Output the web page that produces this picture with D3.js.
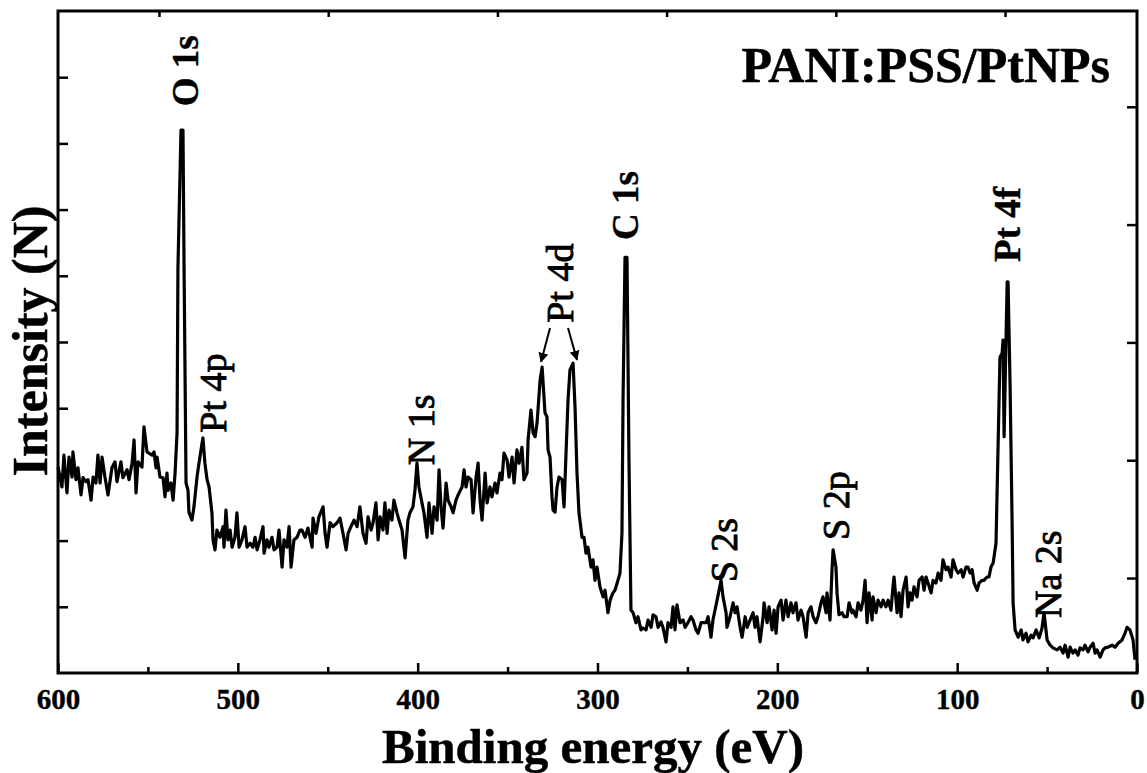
<!DOCTYPE html>
<html><head><meta charset="utf-8">
<script src="https://cdn.jsdelivr.net/npm/d3@7"></script>
<style>body{margin:0;background:#fff}svg{display:block}</style>
</head><body>
<svg id="chart" width="1147" height="773"></svg>
<script>
// Binding energy (eV), intensity (a.u., one unit per left tick)
const spectrum = [
[600.0,3.11],[597.8,2.81],[596.7,3.29],[595.0,2.72],[593.9,3.26],[592.2,2.96],[591.7,3.34],[590.0,2.92],[588.9,3.10],[587.2,2.69],
[586.1,2.95],[584.4,2.89],[583.3,2.92],[581.6,2.61],[580.5,2.96],[578.9,2.87],[577.8,3.29],[576.6,2.87],[575.5,3.26],[573.9,2.96],
[572.2,2.69],[570.0,3.10],[568.3,3.19],[567.2,2.89],[565.0,3.19],[563.9,2.95],[561.6,3.07],[560.5,2.92],[558.8,3.17],[557.7,3.52],
[556.6,2.72],[555.5,3.19],[553.3,3.11],[552.2,3.72],[550.5,3.34],[549.4,3.32],[547.7,3.29],[546.6,3.34],[545.5,3.10],[544.9,3.26],
[543.3,2.96],[541.6,2.95],[540.5,2.66],[539.4,3.02],[538.8,2.76],[537.2,2.87],[536.0,2.61],[534.9,3.02],[533.8,3.63],[533.3,6.13],
[531.6,8.20],[530.5,8.20],[529.9,6.13],[528.8,2.87],[527.7,2.76],[527.2,2.43],[525.5,2.31],[524.4,2.51],[522.7,2.96],[521.6,3.17],
[519.9,3.47],[519.4,3.55],[518.3,3.17],[517.1,2.92],[516.0,2.81],[514.4,2.42],[513.8,2.01],[512.7,1.86],[511.6,2.16],[509.9,2.05],
[508.2,2.21],[507.7,1.90],[506.6,2.46],[505.5,2.01],[504.3,2.16],[503.2,1.90],[501.6,2.05],[500.5,2.42],[499.3,1.90],[497.7,2.01],
[496.0,2.21],[494.9,1.90],[493.2,1.96],[491.6,1.90],[490.4,2.05],[489.3,1.86],[487.7,2.01],[486.0,2.21],[485.4,1.81],[483.8,2.01],
[482.7,1.90],[481.0,2.05],[479.9,1.86],[478.2,1.90],[477.1,2.16],[475.4,1.60],[474.3,2.01],[472.7,1.90],[471.5,2.21],[470.4,1.60],
[468.8,2.01],[467.1,2.05],[465.4,2.16],[464.3,2.16],[462.6,2.05],[461.0,2.19],[458.7,1.90],[458.2,2.34],[456.5,2.11],[454.9,2.36],
[452.6,2.51],[451.5,2.11],[450.4,1.90],[448.7,2.27],[447.1,2.21],[444.8,2.27],[443.2,2.34],[441.5,2.11],[439.8,1.86],[438.7,2.11],
[437.1,2.21],[435.4,2.31],[433.7,2.21],[432.1,2.51],[430.4,2.11],[428.7,1.96],[427.6,2.36],[425.9,2.16],[424.8,2.27],[423.2,2.57],
[422.0,2.01],[420.9,2.36],[419.3,2.16],[418.2,2.57],[417.0,2.11],[415.9,2.46],[414.3,2.31],[413.2,2.61],[411.5,2.42],[410.4,2.31],
[408.7,2.16],[407.0,1.74],[405.4,2.31],[404.3,2.42],[402.6,2.51],[401.5,2.76],[400.4,3.17],[399.3,2.81],[397.6,2.57],[396.5,2.42],
[394.8,2.05],[393.7,2.57],[392.0,2.11],[390.9,2.51],[389.2,2.31],[388.1,3.07],[387.0,2.51],[385.9,2.19],[384.2,2.87],[383.1,2.61],
[381.4,2.51],[380.3,2.42],[378.7,2.61],[377.0,2.72],[375.3,2.81],[374.2,3.07],[373.1,2.81],[372.0,2.96],[370.3,2.92],[369.2,2.42],
[367.5,2.96],[366.4,3.17],[365.3,2.61],[364.2,2.31],[362.5,3.02],[361.4,2.57],[359.8,2.81],[358.7,2.66],[357.0,2.87],[355.9,2.72],
[354.2,3.02],[353.1,2.92],[352.0,3.32],[350.3,3.22],[349.2,2.96],[347.5,3.26],[346.4,2.87],[344.8,3.37],[343.6,3.17],[342.0,3.41],
[340.9,2.92],[339.2,3.02],[338.6,3.52],[337.0,3.97],[335.8,3.63],[334.7,3.57],[333.6,3.78],[331.9,4.43],[330.8,4.62],[329.2,3.93],
[328.1,3.87],[327.5,3.37],[326.4,3.26],[325.3,2.66],[324.7,2.46],[323.6,2.43],[322.5,2.81],[321.4,2.96],[319.7,2.92],[318.6,2.51],
[317.5,3.32],[316.4,4.12],[315.3,4.58],[313.6,4.68],[312.5,4.02],[311.4,3.02],[310.3,2.42],[308.6,2.05],[307.5,2.05],[306.4,1.81],
[305.3,1.90],[303.6,1.60],[302.5,1.71],[301.4,1.40],[300.3,1.60],[298.6,1.30],[296.9,1.15],[295.8,1.25],[294.2,0.91],[293.0,1.10],
[291.4,1.21],[290.3,1.25],[288.6,1.40],[287.5,1.51],[286.4,2.11],[285.8,4.12],[284.7,6.28],[283.6,6.28],[282.5,3.22],[281.4,0.95],
[280.2,0.91],[278.6,0.76],[277.5,0.85],[275.8,0.65],[274.7,0.68],[273.0,0.65],[271.9,0.80],[270.2,0.69],[269.1,0.88],[267.5,0.85],
[266.3,0.69],[264.7,0.77],[263.6,0.69],[261.9,0.47],[260.8,0.76],[259.1,0.69],[258.0,1.00],[256.9,0.65],[255.8,1.03],[254.1,0.76],
[252.4,0.80],[251.3,0.69],[249.7,0.76],[248.0,0.85],[246.9,0.80],[245.2,0.65],[244.1,0.60],[242.4,0.76],[241.3,0.76],[239.6,0.76],
[238.5,0.85],[236.9,0.54],[235.8,0.80],[233.5,1.10],[232.4,1.25],[231.3,1.40],[230.2,1.15],[228.5,0.91],[228.0,0.69],[226.3,0.85],
[224.6,1.06],[223.5,0.91],[222.4,1.00],[220.7,0.69],[219.6,0.54],[217.9,0.85],[216.8,0.69],[215.2,0.80],[213.5,0.91],[212.4,0.69],
[211.3,0.85],[209.6,0.47],[207.9,0.85],[207.4,1.06],[205.7,0.76],[204.6,1.00],[202.9,0.65],[201.8,0.95],[200.7,0.60],[199.6,1.00],
[197.9,1.10],[196.8,0.80],[195.2,1.10],[194.0,0.85],[192.4,1.06],[191.3,0.91],[189.6,1.06],[188.5,0.80],[186.8,0.95],[185.7,0.85],
[184.0,0.54],[182.9,0.91],[181.3,1.00],[180.1,0.85],[178.5,0.76],[177.4,0.85],[175.7,1.06],[174.6,1.15],[172.9,0.91],[172.4,1.21],
[170.7,0.80],[169.6,1.56],[169.0,1.86],[167.4,1.60],[166.8,1.21],[165.7,0.88],[164.0,0.91],[162.9,0.85],[161.2,0.85],[160.1,1.06],
[158.5,0.91],[157.9,0.95],[156.2,0.85],[155.1,1.06],[153.5,0.95],[152.3,1.10],[151.2,1.40],[150.1,0.76],[149.0,1.21],[147.3,0.80],
[146.8,1.15],[145.1,0.91],[144.0,1.10],[142.3,1.00],[141.2,1.10],[139.6,1.00],[138.4,1.10],[136.8,0.95],[135.7,1.30],[135.1,1.45],
[133.4,0.91],[132.3,1.21],[131.2,0.85],[130.1,1.25],[128.4,1.45],[127.3,1.00],[126.2,1.21],[125.1,1.10],[124.0,1.30],[122.3,1.15],
[121.2,1.40],[119.5,1.45],[118.4,1.25],[117.3,1.45],[116.2,1.36],[114.5,1.21],[113.4,1.40],[111.8,1.36],[110.6,1.51],[109.0,1.40],
[107.9,1.71],[106.2,1.56],[105.1,1.60],[103.4,1.45],[102.3,1.71],[100.6,1.56],[99.5,1.51],[97.8,1.56],[96.7,1.45],[95.1,1.60],
[94.0,1.60],[92.8,1.51],[91.7,1.56],[90.6,1.36],[88.9,1.25],[87.8,1.36],[86.2,1.40],[85.1,1.40],[83.4,1.45],[82.3,1.45],
[81.2,1.60],[80.0,1.66],[78.4,1.96],[77.3,3.37],[76.2,4.77],[75.0,4.83],[74.5,5.03],[73.9,3.57],[72.2,5.91],[71.7,5.91],
[70.6,4.38],[69.5,2.36],[68.9,1.06],[67.8,0.65],[66.1,0.54],[64.4,0.65],[63.4,0.50],[61.7,0.60],[60.6,0.47],[58.9,0.57],
[57.8,0.53],[56.1,0.65],[54.4,0.53],[52.8,0.68],[51.7,0.91],[50.0,0.50],[48.3,0.42],[46.7,0.38],[44.4,0.35],[42.8,0.39],
[41.1,0.30],[40.0,0.42],[38.3,0.24],[37.2,0.39],[35.6,0.30],[34.4,0.35],[32.8,0.27],[31.7,0.38],[30.0,0.35],[28.9,0.42],
[27.2,0.32],[26.1,0.39],[24.4,0.45],[23.3,0.30],[22.2,0.35],[20.5,0.24],[18.9,0.35],[17.8,0.38],[16.1,0.39],[13.9,0.42],
[12.2,0.39],[10.5,0.45],[8.3,0.50],[6.7,0.60],[5.5,0.69],[3.9,0.65],[2.2,0.50],[1.1,0.20]
];

const xDomain = [600, 0];
const yDomain = [0, 10];
const xTicksMajor = [600, 500, 400, 300, 200, 100, 0];
const xTicksMinor = [550, 450, 350, 250, 150, 50];
const yTicksLeft = [1, 2, 3, 4, 5, 6, 7, 8, 9];
const rightDomain = [0.194, 5.813];
const rightTicks = [1, 2, 3, 4, 5];
const topDomain = [-0.597, 5.78];
const topTicks = [0, 1, 2, 3, 4, 5];

const xTitle = "Binding energy (eV)";
const yTitle = "Intensity (N)";
const sampleTitle = "PANI:PSS/PtNPs";

// peak labels: label centre energy, label start intensity
const peakLabels = [
  {text: "O 1s",  e: 528.8, i: 8.56, bold: true},
  {text: "Pt 4p", e: 513.8, i: 3.63, bold: false},
  {text: "N 1s",  e: 398.1, i: 3.14, bold: false},
  {text: "Pt 4d", e: 320.8, i: 5.29, bold: false},
  {text: "C 1s",  e: 284.1, i: 6.54, bold: true},
  {text: "S 2s",  e: 229.6, i: 1.37, bold: false},
  {text: "S 2p",  e: 167.3, i: 2.01, bold: false},
  {text: "Pt 4f", e: 71.7,  i: 6.21, bold: true},
  {text: "Na 2s", e: 49.5,  i: 0.83, bold: false}
];
const arrows = [
  {e0: 326.4, i0: 5.21, e1: 331.4, i1: 4.70},
  {e0: 316.4, i0: 5.21, e1: 311.4, i1: 4.73}
];

const svg = d3.select("#chart");
const L = 58, R = 1137, T = 11, B = 673;
const x = d3.scaleLinear().domain(xDomain).range([L, R]);
const y = d3.scaleLinear().domain(yDomain).range([B, T]);
const yR = d3.scaleLinear().domain(rightDomain).range([B, T]);
const xT = d3.scaleLinear().domain(topDomain).range([L, R]);
const serif = "'Liberation Serif','Times New Roman',serif";

svg.append("rect").attr("width", 1147).attr("height", 773).attr("fill", "#fff");

const defs = svg.append("defs");
defs.append("marker").attr("id", "ah").attr("viewBox", "0 0 10 10")
  .attr("refX", 9).attr("refY", 5).attr("markerWidth", 5).attr("markerHeight", 5)
  .attr("orient", "auto").attr("markerUnits", "strokeWidth")
  .append("path").attr("d", "M0,0 L10,5 L0,10 Z").attr("fill", "#000");

// spectrum line
const line = d3.line().x(d => x(d[0])).y(d => y(d[1]));
svg.append("path").datum(spectrum).attr("d", line)
  .attr("fill", "none").attr("stroke", "#000").attr("stroke-width", 3.2)
  .attr("stroke-linejoin", "round");

function styleAxis(g) {
  g.select(".domain").remove();
  g.selectAll(".tick line").attr("stroke", "#000").attr("stroke-width", 2.5);
  g.selectAll("text").attr("font-family", serif).attr("font-weight", "bold")
    .attr("font-size", 29).attr("fill", "#000")
    .attr("stroke", "#000").attr("stroke-width", 0.4);
}

svg.append("g").attr("transform", `translate(0,${B})`)
  .call(d3.axisBottom(x).tickValues(xTicksMajor).tickSize(-10).tickSizeOuter(0).tickPadding(15).tickFormat(d3.format("d")))
  .call(styleAxis);
svg.append("g").attr("transform", `translate(0,${B})`)
  .call(d3.axisBottom(x).tickValues(xTicksMinor).tickSize(-6).tickSizeOuter(0).tickFormat(""))
  .call(styleAxis);
svg.append("g").attr("transform", `translate(${L},0)`)
  .call(d3.axisLeft(y).tickValues(yTicksLeft).tickSize(-10).tickSizeOuter(0).tickFormat(""))
  .call(styleAxis);
svg.append("g").attr("transform", `translate(${R},0)`)
  .call(d3.axisRight(yR).tickValues(rightTicks).tickSize(-10).tickSizeOuter(0).tickFormat(""))
  .call(styleAxis);
svg.append("g").attr("transform", `translate(0,${T})`)
  .call(d3.axisTop(xT).tickValues(topTicks).tickSize(-6).tickSizeOuter(0).tickFormat(""))
  .call(styleAxis);

// frame
svg.append("rect").attr("x", L).attr("y", T).attr("width", R - L).attr("height", B - T)
  .attr("fill", "none").attr("stroke", "#000").attr("stroke-width", 3);

// axis titles
svg.append("text").attr("x", 593).attr("y", 763)
  .attr("text-anchor", "middle").attr("font-family", serif).attr("font-weight", "bold")
  .attr("font-size", 49).attr("stroke", "#000").attr("stroke-width", 0.5).text(xTitle);
svg.append("text").attr("transform", `translate(47,341) rotate(-90)`)
  .attr("text-anchor", "middle").attr("font-family", serif).attr("font-weight", "bold")
  .attr("font-size", 50).attr("stroke", "#000").attr("stroke-width", 0.5).text(yTitle);

// sample title
svg.append("text").attr("x", 1110).attr("y", 82).attr("text-anchor", "end")
  .attr("font-family", serif).attr("font-weight", "bold").attr("font-size", 50)
  .attr("stroke", "#000").attr("stroke-width", 0.5).text(sampleTitle);

// peak labels
svg.selectAll(".pl").data(peakLabels).join("text").attr("class", "pl")
  .attr("transform", d => `translate(${x(d.e)},${y(d.i)}) rotate(-90)`)
  .attr("dy", "0.33em").attr("font-family", serif)
  .attr("font-weight", d => d.bold ? "bold" : "normal")
  .attr("stroke", "#000").attr("stroke-width", d => d.bold ? 0.4 : 0.9)
  .attr("font-size", d => d.bold ? 37 : 38).text(d => d.text);

svg.selectAll(".ar").data(arrows).join("line").attr("class", "ar")
  .attr("x1", d => x(d.e0)).attr("y1", d => y(d.i0))
  .attr("x2", d => x(d.e1)).attr("y2", d => y(d.i1))
  .attr("stroke", "#000").attr("stroke-width", 2).attr("marker-end", "url(#ah)");
</script>
</body></html>
